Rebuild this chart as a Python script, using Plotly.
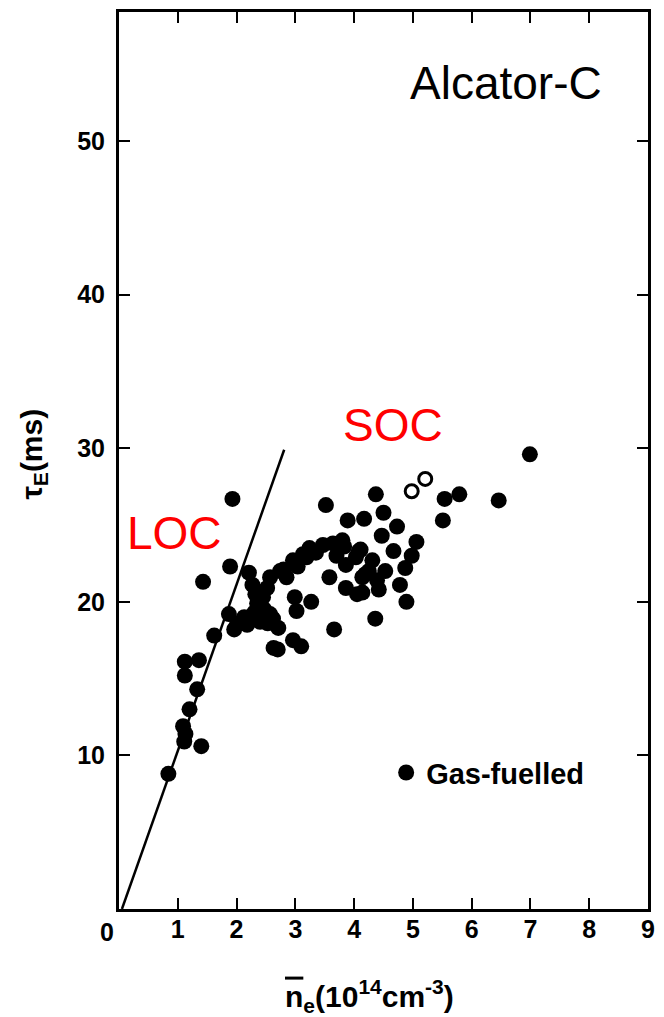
import plotly.graph_objects as go

# Gas-fuelled shots (filled circles)
x_gas = [0.84, 1.11, 1.13, 1.09, 1.40, 1.20, 1.33, 1.12, 1.12, 1.36,
         1.62, 1.43, 1.89, 1.93, 1.87, 1.96, 2.01, 2.13, 2.21, 2.27,
         2.32, 2.35, 2.40, 2.47, 2.57, 2.62, 2.71, 2.63, 2.70, 2.96,
         3.10, 2.52, 2.57, 2.74, 2.85, 2.96, 3.04, 3.13, 3.24, 3.19,
         3.35, 3.47, 3.64, 3.80, 3.83, 2.99, 3.02, 3.27, 3.58, 3.66,
         3.52, 3.89, 4.17, 4.37, 4.50, 3.86, 4.05, 4.14, 4.03, 4.11,
         4.25, 4.19, 4.31, 3.86, 4.36, 4.39, 4.42, 4.53, 4.47, 4.67,
         4.73, 5.06, 4.98, 4.87, 4.78, 4.89, 5.51, 5.54, 5.79, 6.46,
         6.99, 4.08, 4.14, 2.80, 2.45, 2.18, 2.30, 2.53, 3.70]
y_gas = [8.8, 10.9, 11.4, 11.9, 10.6, 13.0, 14.3, 15.2, 16.1, 16.2,
         17.8, 21.3, 22.3, 26.7, 19.2, 18.2, 18.6, 19.0, 21.9, 21.1,
         20.5, 19.9, 18.7, 19.5, 19.2, 18.9, 18.3, 17.0, 16.9, 17.5,
         17.1, 20.9, 21.6, 22.0, 21.6, 22.7, 22.3, 23.1, 23.5, 22.9,
         23.2, 23.7, 23.8, 24.0, 23.6, 20.3, 19.4, 20.0, 21.6, 18.2,
         26.3, 25.3, 25.4, 27.0, 25.8, 20.9, 20.5, 20.6, 22.9, 23.4,
         22.0, 21.8, 22.7, 22.4, 18.9, 21.4, 20.8, 22.0, 24.3, 23.3,
         24.9, 23.9, 23.0, 22.2, 21.1, 20.0, 25.3, 26.7, 27.0, 26.6,
         29.6, 23.3, 21.6, 22.1, 20.3, 18.5, 19.3, 18.6, 23.0]

# Open circles
x_open = [4.98, 5.21]
y_open = [27.2, 28.0]

# LOC scaling line
x_loc = [0.05, 2.81]
y_loc = [0.0, 29.9]

x_ticks = [1, 2, 3, 4, 5, 6, 7, 8, 9]
y_ticks = [10, 20, 30, 40, 50]

fig = go.Figure()
fig.add_trace(go.Scatter(x=x_loc, y=y_loc, mode="lines",
                         line=dict(color="black", width=2.5), showlegend=False))
fig.add_trace(go.Scatter(x=x_gas, y=y_gas, mode="markers", name="Gas-fuelled",
                         marker=dict(color="black", size=16, line=dict(width=0))))
fig.add_trace(go.Scatter(x=x_open, y=y_open, mode="markers", showlegend=False,
                         marker=dict(color="white", size=13,
                                     line=dict(color="black", width=3))))

tickfont = dict(family="Liberation Sans, Arial", size=25, color="black", weight="bold")

fig.update_xaxes(range=[0, 9], tickvals=x_ticks, ticks="inside", ticklen=11,
                 tickwidth=2, tickcolor="black", showline=True, linewidth=3,
                 linecolor="black", mirror="ticks", showgrid=False, zeroline=False,
                 tickfont=tickfont, ticklabelstandoff=-4)
fig.update_yaxes(range=[0, 58.4], tickvals=y_ticks, ticks="inside", ticklen=11,
                 tickwidth=2, tickcolor="black", showline=True, linewidth=3,
                 linecolor="black", mirror="ticks", showgrid=False, zeroline=False,
                 tickfont=tickfont, ticklabelstandoff=6)

ann_font = dict(family="Liberation Sans, Arial", size=46)
fig.add_annotation(x=6.58, y=53.8, text="Alcator-C", showarrow=False,
                   font=dict(ann_font, color="black"))
fig.add_annotation(x=4.67, y=31.5, text="SOC", showarrow=False,
                   font=dict(ann_font, color="red"))
fig.add_annotation(x=0.94, y=24.5, text="LOC", showarrow=False,
                   font=dict(ann_font, color="red"))

# corner "0"
fig.add_annotation(xref="paper", yref="paper", x=0, y=0, text="0", showarrow=False,
                   xanchor="right", yanchor="top", xshift=-3, yshift=-7,
                   font=tickfont)

title_font = dict(family="Liberation Sans, Arial", size=30, color="black", weight="bold")
fig.add_annotation(xref="paper", yref="paper", x=0.474, y=-0.097,
                   xanchor="center", yanchor="middle",
                   text="<span style='text-decoration:overline'>n</span><sub>e</sub>"
                        "(10<sup>14</sup>cm<sup>-3</sup>)",
                   showarrow=False, font=title_font)
fig.add_annotation(xref="paper", yref="paper", x=-0.162, y=0.507,
                   xanchor="center", yanchor="middle",
                   text="\u03c4<sub>E</sub>(ms)", textangle=-90,
                   showarrow=False, font=title_font)

fig.update_layout(
    width=664, height=1017,
    margin=dict(l=119, r=9, t=10, b=108),
    plot_bgcolor="white", paper_bgcolor="white",
    legend=dict(x=0.505, y=0.152, xanchor="left", yanchor="middle",
                bgcolor="rgba(0,0,0,0)", borderwidth=0,
                font=dict(family="Liberation Sans, Arial", size=29,
                          color="black", weight="bold")),
)

fig.write_html("out.html")
